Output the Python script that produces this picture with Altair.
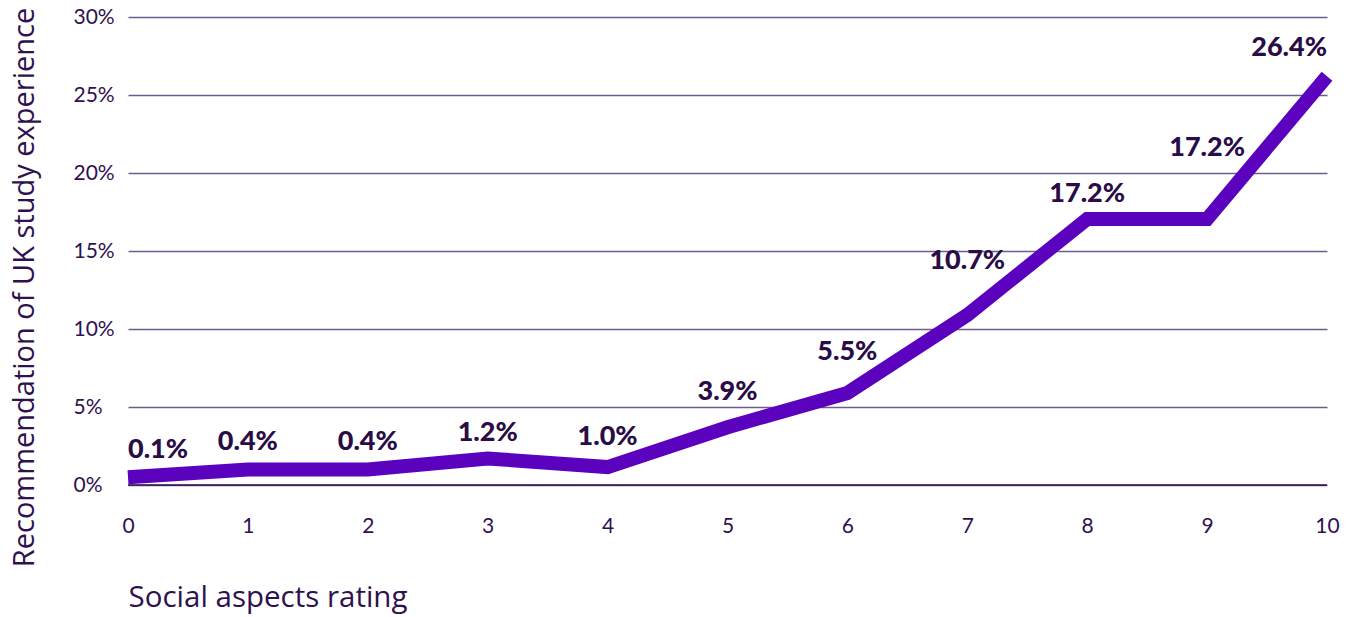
import altair as alt
import pandas as pd

rating = [0, 1, 2, 3, 4, 5, 6, 7, 8, 9, 10]
share = [0.5, 1.0, 1.0, 1.7, 1.15, 3.7, 5.9, 10.9, 17.05, 17.05, 26.2]
labels = ["0.1%", "0.4%", "0.4%", "1.2%", "1.0%", "3.9%", "5.5%", "10.7%", "17.2%", "17.2%", "26.4%"]
label_lift_px = [27, 27, 27, 25, 30, 35, 41, 54, 25, 71, 28]
y_ticks = [0, 5, 10, 15, 20, 25, 30]

df = pd.DataFrame({"rating": rating, "share": share, "label": labels, "lift": label_lift_px})

TXT = "#2f1150"
LABEL_TXT = "#2a0c46"
LINE = "#5a02be"
GRID = "#6f5b92"
FONT = "Lato"
TITLE_FONT = "Open Sans"
PLOT_H = 468
Y_MAX = 30

yscale = alt.Scale(domain=[0, Y_MAX], nice=False)

x = alt.X("rating:Q", scale=alt.Scale(domain=[0, 10], nice=False),
          axis=alt.Axis(values=rating, format="d", ticks=False, domain=False, grid=False,
                        labelFlush=False, labelOverlap=False,
                        labelFont=FONT, labelFontSize=21, labelColor=TXT, labelPadding=30,
                        title="Social aspects rating", titleFont=TITLE_FONT, titleFontSize=29.5,
                        titleFontWeight="normal", titleColor=TXT, titleAlign="left",
                        titleAnchor="start", titleX=0, titleY=112, titleBaseline="middle"))
y = alt.Y("share:Q", scale=yscale,
          axis=alt.Axis(values=y_ticks, labelExpr="datum.value + '%'", ticks=False, domain=False,
                        grid=True, gridColor=GRID, gridWidth=1.3, labelFlush=False,
                        labelFont=FONT, labelFontSize=21, labelColor=TXT, labelAlign="left",
                        labelPadding=55, labelBaseline="middle",
                        title="Recommendation of UK study experience", titleFont=TITLE_FONT,
                        titleFontSize=29, titleFontWeight="normal", titleColor=TXT,
                        titleAngle=270, titleAlign="center", titleBaseline="middle",
                        titleX=-104, titleY=270))

base = alt.Chart(df)

line = base.mark_line(color=LINE, strokeWidth=14, strokeCap="butt", strokeJoin="miter").encode(x=x, y=y)

zero = alt.Chart(pd.DataFrame({"v": [0]})).mark_rule(color="#2b0c47", strokeWidth=1.5).encode(
    y=alt.Y("v:Q", scale=yscale))

def text_layer(align, flt):
    return base.transform_filter(flt).transform_calculate(
        label_y=f"datum.share + datum.lift * {Y_MAX} / {PLOT_H}"
    ).mark_text(
        align=align, baseline="middle", font=FONT, fontSize=27, fontWeight=900, color=LABEL_TXT).encode(
        x=alt.X("rating:Q"), y=alt.Y("label_y:Q", scale=yscale), text="label:N")

t_first = text_layer("left", alt.datum.rating == 0)
t_mid = text_layer("center", (alt.datum.rating > 0) & (alt.datum.rating < 10))
t_last = text_layer("right", alt.datum.rating == 10)

chart = alt.layer(line, zero, t_first, t_mid, t_last).properties(
    width=1199, height=PLOT_H,
    autosize=alt.AutoSizeParams(type="none"),
    padding={"left": 128, "top": 17, "right": 28, "bottom": 132},
    background="white",
).configure_view(stroke=None)

chart.save("out.html", embed_options={"renderer": "svg", "actions": False})
